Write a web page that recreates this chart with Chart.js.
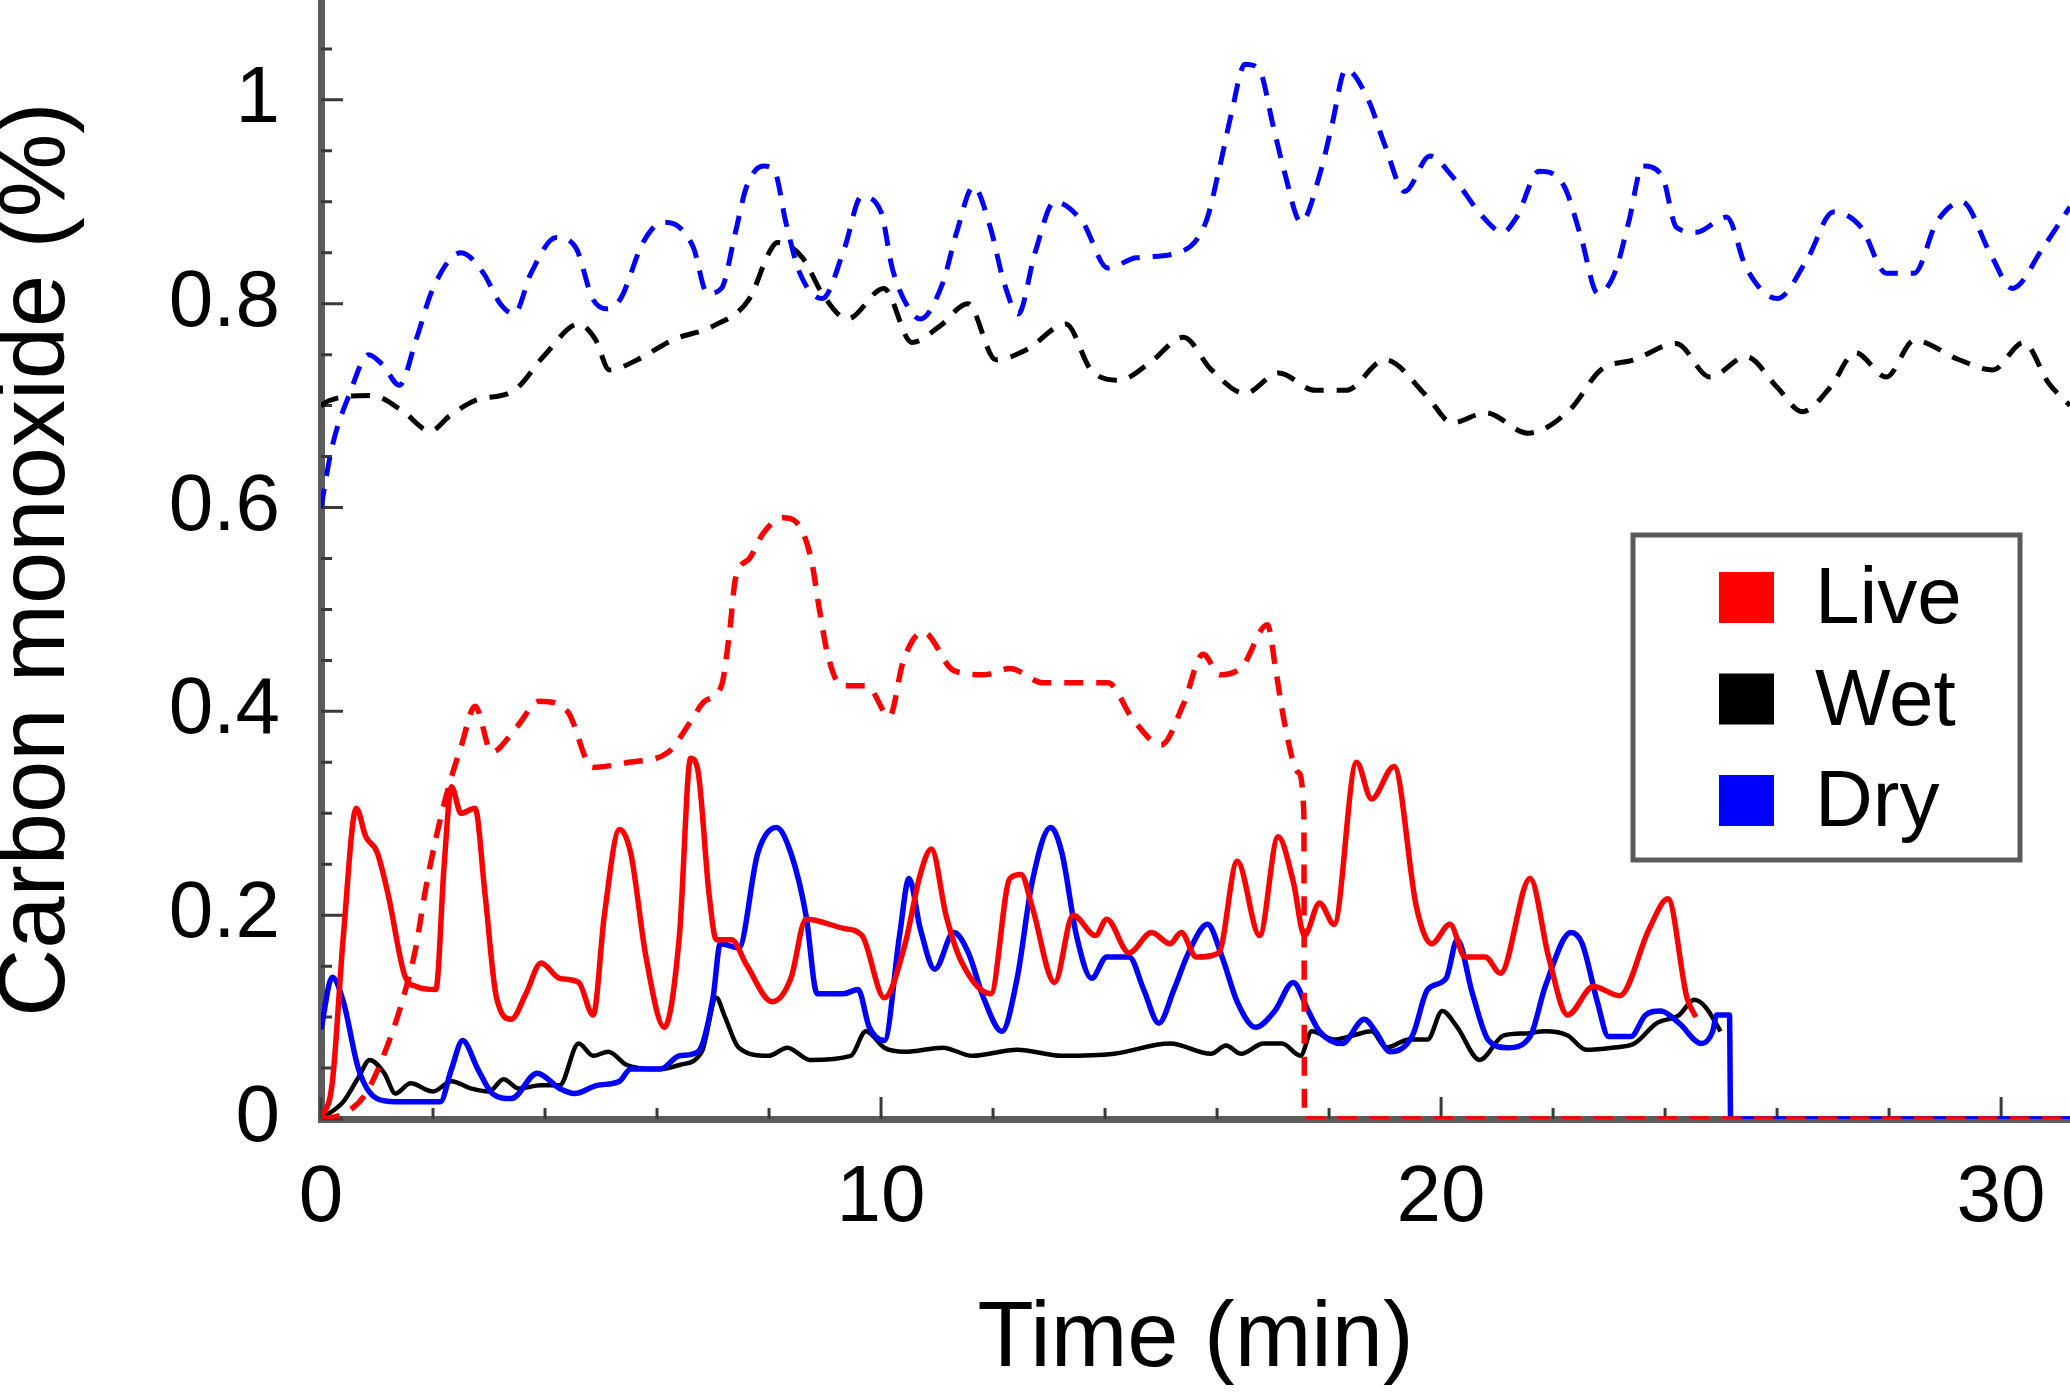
<!DOCTYPE html>
<html>
<head>
<meta charset="utf-8">
<script src="https://cdn.jsdelivr.net/npm/chart.js@4/dist/chart.umd.min.js"></script>
<style>
  html, body { margin: 0; padding: 0; background: #ffffff; }
  #wrap { width: 2070px; height: 1394px; position: relative; }
</style>
</head>
<body>
<div id="wrap"><canvas id="c" width="2070" height="1394"></canvas></div>
<script>
// ---------- data ----------
const seriesNames = ['Live', 'Wet', 'Dry'];
const seriesColors = ['#ff0000', '#000000', '#0000ff'];
const xTitle = 'Time (min)';
const yTitle = 'Carbon monoxide (%)';
const xTicks = [0, 10, 20, 30];
const yTicks = [0, 0.2, 0.4, 0.6, 0.8, 1];
const yTickLabels = ['0', '0.2', '0.4', '0.6', '0.8', '1'];
const xMax = 31.23;
const yMax = 1.098;

// Live (solid)
const liveSolidT = [0, 0.2, 0.4, 0.63, 0.8, 1.0, 1.2, 1.5, 1.7, 2.05, 2.2, 2.33, 2.5, 2.75, 2.93, 3.13, 3.4, 3.66, 3.93, 4.26, 4.6, 4.86, 5.06, 5.33, 5.53, 5.8, 6.13, 6.4, 6.6, 6.73, 6.93, 7.06, 7.33, 7.6, 8.06, 8.39, 8.66, 9.33, 9.66, 10.06, 10.43, 10.7, 10.9, 11.16, 11.43, 11.96, 12.3, 12.5, 12.7, 13.1, 13.43, 13.83, 14.03, 14.43, 14.83, 15.16, 15.36, 15.63, 16.03, 16.36, 16.76, 17.09, 17.36, 17.56, 17.83, 18.09, 18.49, 18.76, 19.16, 19.56, 19.83, 20.16, 20.43, 20.79, 21.06, 21.59, 21.92, 22.26, 22.72, 23.19, 23.72, 24.05, 24.39, 24.55];
const liveSolidV = [0, 0.035, 0.18, 0.305, 0.277, 0.262, 0.22, 0.14, 0.13, 0.127, 0.25, 0.326, 0.30, 0.305, 0.22, 0.12, 0.098, 0.123, 0.153, 0.138, 0.134, 0.102, 0.20, 0.284, 0.261, 0.16, 0.09, 0.18, 0.354, 0.342, 0.22, 0.176, 0.176, 0.151, 0.115, 0.138, 0.196, 0.187, 0.18, 0.119, 0.172, 0.24, 0.265, 0.20, 0.155, 0.123, 0.236, 0.24, 0.208, 0.134, 0.20, 0.18, 0.196, 0.163, 0.183, 0.172, 0.183, 0.159, 0.163, 0.253, 0.18, 0.277, 0.233, 0.18, 0.212, 0.191, 0.35, 0.314, 0.346, 0.208, 0.172, 0.191, 0.159, 0.159, 0.143, 0.236, 0.159, 0.102, 0.13, 0.121, 0.187, 0.216, 0.119, 0.10];

// Live (dashed)
const liveDashT = [0, 0.4, 0.8, 1.2, 1.5, 1.7, 1.85, 2.05, 2.3, 2.5, 2.75, 3.05, 3.5, 3.9, 4.4, 4.85, 5.5, 6.2, 6.6, 6.85, 7.15, 7.3, 7.4, 7.65, 7.9, 8.25, 8.5, 8.75, 8.9, 9.05, 9.3, 9.75, 10.15, 10.4, 10.75, 11.3, 11.85, 12.3, 12.9, 13.45, 14.05, 14.5, 15.0, 15.4, 15.75, 16.05, 16.45, 16.9, 17.05, 17.2, 17.45, 17.55, 17.56, 31.23];
const liveDashV = [0, 0.005, 0.025, 0.074, 0.125, 0.17, 0.22, 0.275, 0.33, 0.365, 0.405, 0.36, 0.385, 0.41, 0.40, 0.345, 0.35, 0.36, 0.39, 0.41, 0.425, 0.48, 0.53, 0.55, 0.575, 0.59, 0.585, 0.55, 0.50, 0.455, 0.425, 0.425, 0.395, 0.45, 0.478, 0.44, 0.436, 0.442, 0.428, 0.428, 0.428, 0.392, 0.367, 0.407, 0.456, 0.436, 0.444, 0.485, 0.44, 0.39, 0.34, 0.30, 0, 0];

// Wet (solid)
const wetSolidT = [0, 0.4, 0.67, 0.87, 1.13, 1.33, 1.6, 2.0, 2.33, 2.67, 3.0, 3.26, 3.53, 3.93, 4.26, 4.6, 4.86, 5.13, 5.46, 6.0, 6.4, 6.8, 7.06, 7.2, 7.46, 7.99, 8.33, 8.73, 9.46, 9.73, 10.06, 10.43, 11.1, 11.63, 12.43, 13.23, 14.16, 15.16, 15.89, 16.16, 16.43, 16.83, 17.16, 17.49, 17.69, 18.09, 18.43, 18.76, 19.02, 19.43, 19.76, 20.02, 20.29, 20.69, 21.12, 21.52, 21.86, 22.26, 22.59, 23.05, 23.45, 23.85, 24.25, 24.52, 24.72, 24.99];
const wetSolidV = [0, 0.017, 0.041, 0.058, 0.045, 0.025, 0.035, 0.027, 0.037, 0.03, 0.027, 0.039, 0.03, 0.033, 0.033, 0.074, 0.062, 0.066, 0.053, 0.049, 0.053, 0.066, 0.119, 0.102, 0.07, 0.062, 0.07, 0.058, 0.062, 0.086, 0.07, 0.066, 0.07, 0.062, 0.068, 0.062, 0.064, 0.074, 0.064, 0.072, 0.064, 0.074, 0.074, 0.062, 0.086, 0.078, 0.082, 0.086, 0.07, 0.078, 0.078, 0.106, 0.09, 0.058, 0.082, 0.084, 0.086, 0.082, 0.068, 0.07, 0.074, 0.094, 0.102, 0.117, 0.11, 0.086];

// Wet (dashed)
const wetDashT = [0, 0.15, 0.9, 1.45, 1.95, 2.3, 2.75, 3.45, 4.0, 4.6, 4.9, 5.15, 5.65, 6.3, 7.0, 7.65, 8.0, 8.15, 8.6, 8.95, 9.4, 10.05, 10.55, 11.05, 11.55, 12.05, 12.6, 13.3, 13.75, 14.25, 14.8, 15.4, 15.9, 16.5, 17.1, 17.75, 18.3, 19.0, 19.75, 20.2, 20.8, 21.55, 22.3, 22.85, 23.45, 24.2, 24.8, 25.45, 26.0, 26.45, 26.95, 27.4, 27.95, 28.45, 29.25, 29.85, 30.4, 30.85, 31.23];
const wetDashV = [0.70, 0.705, 0.71, 0.695, 0.675, 0.69, 0.705, 0.715, 0.75, 0.78, 0.765, 0.735, 0.745, 0.765, 0.778, 0.805, 0.85, 0.86, 0.845, 0.81, 0.785, 0.815, 0.762, 0.778, 0.80, 0.745, 0.755, 0.78, 0.735, 0.725, 0.742, 0.767, 0.735, 0.712, 0.732, 0.715, 0.715, 0.745, 0.709, 0.683, 0.693, 0.673, 0.696, 0.735, 0.745, 0.761, 0.728, 0.748, 0.718, 0.694, 0.718, 0.752, 0.728, 0.764, 0.745, 0.735, 0.762, 0.722, 0.70];

// Dry (solid)
const drySolidT = [0, 0.2, 0.4, 0.67, 1.0, 1.33, 2.13, 2.33, 2.53, 2.8, 3.06, 3.4, 3.86, 4.26, 4.53, 4.93, 5.33, 5.53, 6.06, 6.4, 6.73, 7.0, 7.13, 7.46, 7.8, 8.13, 8.39, 8.66, 8.86, 9.33, 9.59, 9.79, 10.06, 10.33, 10.5, 10.7, 10.96, 11.3, 11.56, 11.83, 12.16, 12.43, 12.7, 13.03, 13.23, 13.49, 13.76, 14.03, 14.43, 14.69, 14.96, 15.23, 15.49, 15.83, 16.09, 16.36, 16.69, 17.03, 17.36, 17.63, 17.83, 18.23, 18.63, 18.83, 19.09, 19.49, 19.76, 20.09, 20.29, 20.56, 20.85, 21.19, 21.59, 21.86, 22.32, 22.52, 22.79, 22.99, 23.39, 23.65, 23.92, 24.25, 24.65, 24.85, 24.92, 25.15, 25.17, 31.23];
const drySolidV = [0.088, 0.139, 0.115, 0.049, 0.02, 0.017, 0.017, 0.049, 0.077, 0.049, 0.025, 0.02, 0.045, 0.03, 0.025, 0.033, 0.037, 0.049, 0.049, 0.062, 0.066, 0.119, 0.172, 0.168, 0.261, 0.286, 0.261, 0.20, 0.123, 0.123, 0.127, 0.09, 0.077, 0.18, 0.236, 0.187, 0.147, 0.183, 0.163, 0.119, 0.086, 0.138, 0.233, 0.286, 0.261, 0.18, 0.138, 0.159, 0.159, 0.127, 0.094, 0.127, 0.163, 0.191, 0.159, 0.115, 0.09, 0.106, 0.134, 0.106, 0.086, 0.074, 0.098, 0.086, 0.066, 0.082, 0.127, 0.138, 0.176, 0.123, 0.077, 0.07, 0.081, 0.13, 0.183, 0.172, 0.115, 0.081, 0.081, 0.102, 0.106, 0.094, 0.074, 0.086, 0.102, 0.102, 0, 0];

// Dry (dashed)
const dryDashT = [0, 0.2, 0.5, 0.85, 1.1, 1.4, 1.7, 2.0, 2.5, 2.9, 3.2, 3.45, 3.75, 4.2, 4.55, 4.85, 5.1, 5.35, 5.75, 6.1, 6.4, 6.65, 6.9, 7.15, 7.4, 7.6, 7.9, 8.1, 8.3, 8.55, 8.95, 9.35, 9.65, 10.0, 10.2, 10.5, 10.7, 11.1, 11.35, 11.65, 11.95, 12.2, 12.45, 12.75, 13.1, 13.6, 14.05, 14.55, 15.3, 15.8, 16.05, 16.25, 16.5, 16.75, 17.0, 17.2, 17.5, 17.85, 18.05, 18.3, 18.7, 19.0, 19.35, 19.8, 20.2, 20.75, 21.1, 21.35, 21.75, 22.2, 22.5, 22.8, 23.1, 23.35, 23.6, 23.95, 24.2, 24.55, 25.1, 25.45, 26.0, 26.55, 27.0, 27.5, 27.95, 28.45, 28.85, 29.3, 29.8, 30.2, 30.75, 31.23];
const dryDashV = [0.60, 0.66, 0.71, 0.75, 0.74, 0.72, 0.765, 0.815, 0.85, 0.83, 0.80, 0.79, 0.83, 0.865, 0.855, 0.805, 0.795, 0.805, 0.86, 0.88, 0.875, 0.855, 0.81, 0.815, 0.87, 0.915, 0.935, 0.93, 0.88, 0.83, 0.805, 0.855, 0.905, 0.89, 0.835, 0.795, 0.785, 0.82, 0.87, 0.915, 0.875, 0.82, 0.79, 0.85, 0.90, 0.88, 0.835, 0.845, 0.85, 0.88, 0.935, 0.985, 1.035, 1.03, 0.975, 0.93, 0.88, 0.93, 0.975, 1.03, 1.0, 0.955, 0.91, 0.945, 0.925, 0.885, 0.87, 0.885, 0.93, 0.915, 0.865, 0.81, 0.83, 0.88, 0.935, 0.925, 0.875, 0.87, 0.885, 0.835, 0.805, 0.845, 0.89, 0.875, 0.83, 0.83, 0.88, 0.90, 0.85, 0.815, 0.855, 0.895];

// ---------- build ----------
const FONT = '"Liberation Sans", Arial, Helvetica, sans-serif';
const pts = (ts, vs) => ts.map((t, i) => ({ x: t, y: vs[i] }));
const DASH = [19, 13];

function ds(label, color, ts, vs, dashed, width) {
  return {
    label: label,
    data: pts(ts, vs),
    borderColor: color,
    backgroundColor: color,
    borderWidth: width,
    borderDash: dashed ? DASH : [],
    pointRadius: 0,
    fill: false,
    cubicInterpolationMode: 'monotone',
    borderJoinStyle: 'round'
  };
}

const datasets = [
  ds(seriesNames[0], seriesColors[0], liveDashT, liveDashV, true, 5.5),
  ds(seriesNames[0], seriesColors[0], liveSolidT, liveSolidV, false, 5.5),
  ds(seriesNames[2], seriesColors[2], drySolidT, drySolidV, false, 5.5),
  ds(seriesNames[1], seriesColors[1], wetSolidT, wetSolidV, false, 4.5),
  ds(seriesNames[2], seriesColors[2], dryDashT, dryDashV, true, 5),
  ds(seriesNames[1], seriesColors[1], wetDashT, wetDashV, true, 5)
];

// inward tick marks (major + minor) drawn through the scales
const tickPlugin = {
  id: 'inwardTicks',
  beforeDatasetsDraw(chart) {
    const ctx = chart.ctx, xs = chart.scales.x, ys = chart.scales.y;
    const ca = chart.chartArea;
    ctx.save();
    ctx.strokeStyle = '#3a3a3a';
    ctx.lineWidth = 3;
    ctx.beginPath();
    for (let v = 0; v <= xMax + 1e-9; v += 2) {
      const major = xTicks.some(t => Math.abs(t - v) < 1e-6);
      const px = xs.getPixelForValue(v);
      ctx.moveTo(px, ca.bottom);
      ctx.lineTo(px, ca.bottom - (major ? 22 : 11));
    }
    for (let k = 0; k * 0.05 <= yMax + 1e-9; k++) {
      const v = k * 0.05;
      const major = yTicks.some(t => Math.abs(t - v) < 1e-6);
      const py = ys.getPixelForValue(v);
      ctx.moveTo(ca.left, py);
      ctx.lineTo(ca.left + (major ? 22 : 11), py);
    }
    ctx.stroke();
    ctx.restore();
  }
};

// framed legend inside the plot
const legendPlugin = {
  id: 'boxLegend',
  afterDraw(chart) {
    const ctx = chart.ctx, ca = chart.chartArea;
    const left = ca.right - 437, top = 535, w = 387, h = 325;
    ctx.save();
    ctx.fillStyle = '#ffffff';
    ctx.fillRect(left, top, w, h);
    ctx.strokeStyle = '#5a5a5a';
    ctx.lineWidth = 5;
    ctx.strokeRect(left, top, w, h);
    ctx.font = '80px ' + FONT;
    ctx.textBaseline = 'alphabetic';
    ctx.textAlign = 'left';
    seriesNames.forEach((name, i) => {
      const base = top + 88 + i * 101.5;
      ctx.fillStyle = seriesColors[i];
      ctx.fillRect(left + 86, base - 51, 55, 51);
      ctx.fillStyle = '#000000';
      ctx.fillText(name, left + 182, base);
    });
    ctx.restore();
  }
};

new Chart(document.getElementById('c'), {
  type: 'line',
  data: { datasets: datasets },
  options: {
    responsive: false,
    animation: false,
    devicePixelRatio: 1,
    layout: { padding: 0 },
    plugins: { legend: { display: false }, tooltip: { enabled: false } },
    scales: {
      x: {
        type: 'linear',
        position: 'bottom',
        min: 0,
        max: xMax,
        grid: { display: false, drawTicks: false },
        border: { display: true, color: '#5c5c5c', width: 7 },
        afterBuildTicks: s => { s.ticks = xTicks.map(v => ({ value: v })); },
        afterFit: s => { s.height = 275; s.paddingLeft = 0; s.paddingRight = 0; },
        ticks: {
          color: '#000000',
          padding: 32,
          maxRotation: 0,
          autoSkip: false,
          font: { family: FONT, size: 80, lineHeight: 1.2 },
          callback: v => String(v)
        },
        title: {
          display: true,
          text: xTitle,
          color: '#000000',
          font: { family: FONT, size: 92, lineHeight: 1.0 },
          padding: { top: 0, bottom: 7 }
        }
      },
      y: {
        type: 'linear',
        position: 'left',
        min: 0,
        max: yMax,
        grid: { display: false, drawTicks: false },
        border: { display: true, color: '#5c5c5c', width: 7 },
        afterBuildTicks: s => { s.ticks = yTicks.map(v => ({ value: v })); },
        afterFit: s => { s.width = 321; s.paddingTop = 0; s.paddingBottom = 0; },
        ticks: {
          color: '#000000',
          padding: 41,
          autoSkip: false,
          font: { family: FONT, size: 80, lineHeight: 1.2 },
          callback: (v, i) => yTickLabels[i]
        },
        title: {
          display: true,
          text: yTitle,
          color: '#000000',
          font: { family: FONT, size: 94, lineHeight: 0.8 },
          padding: { top: 0, bottom: 0 }
        }
      }
    }
  },
  plugins: [tickPlugin, legendPlugin]
});
</script>
</body>
</html>
